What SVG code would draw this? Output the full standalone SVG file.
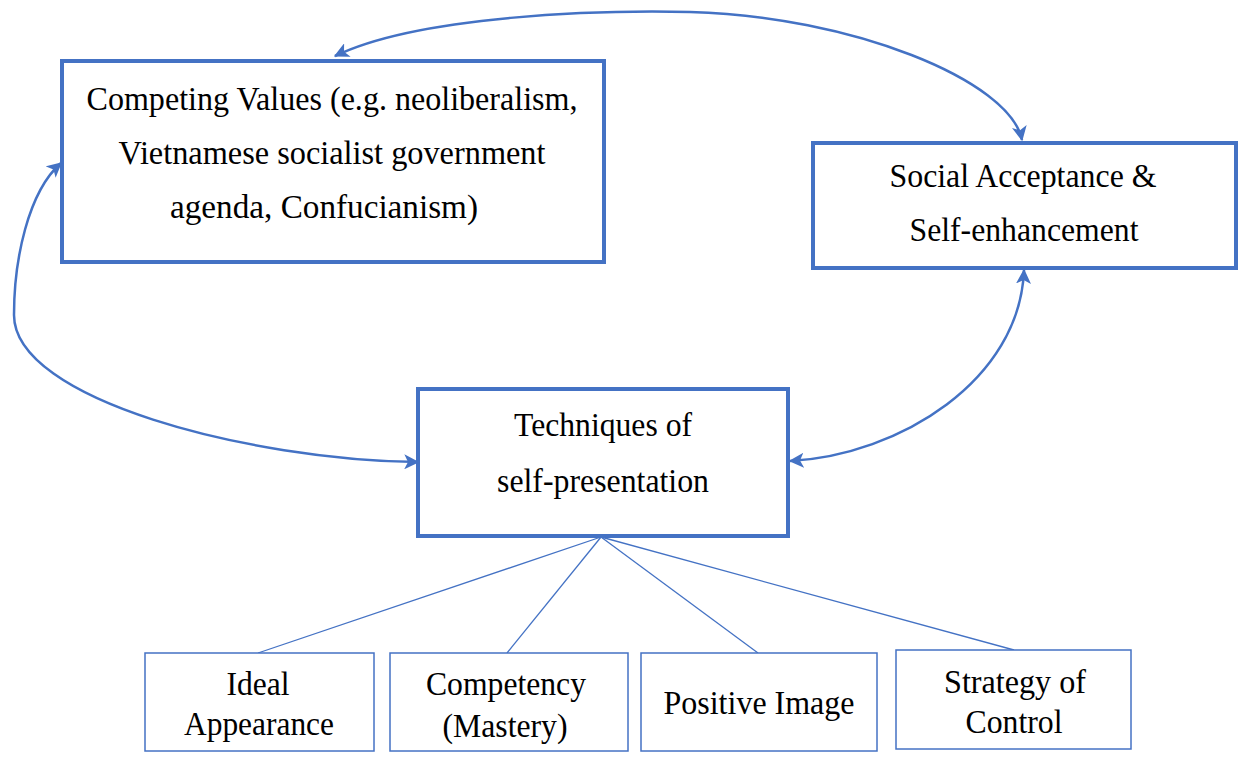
<svg xmlns="http://www.w3.org/2000/svg" width="1241" height="761" viewBox="0 0 1241 761">
  <defs>
    <style>
      .main { fill: #fff; stroke: #4472C4; stroke-width: 4; }
      .sub { fill: #fff; stroke: #4472C4; stroke-width: 1.5; }
      .lbl { font-size: 33px; fill: #000; text-anchor: middle; }
      .link { fill: none; stroke: #4472C4; stroke-width: 2.5; }
      .spoke { fill: none; stroke: #4472C4; stroke-width: 1.3; }
    </style>
    <marker id="arr" viewBox="0 0 12 12" refX="11" refY="6" markerWidth="6" markerHeight="6" orient="auto-start-reverse" markerUnits="strokeWidth">
      <path d="M0,0 L12,6 L0,12 L3,6 Z" fill="#4472C4"/>
    </marker>
  </defs>

  <rect width="1241" height="761" fill="#fff"/>

  <g id="connectors">
    <path class="link" d="M1022,140 C1010,80 850,16 690,12 C600,10 420,15 335,56" marker-start="url(#arr)" marker-end="url(#arr)"/>
    <path class="link" d="M418,462 C250,460 14,400 14,315 C14,260 28,192 61,163" marker-start="url(#arr)" marker-end="url(#arr)"/>
    <path class="link" d="M790,461 C900,455 1020,380 1024,270" marker-start="url(#arr)" marker-end="url(#arr)"/>
    <line class="spoke" x1="601" y1="537" x2="258" y2="653"/>
    <line class="spoke" x1="601" y1="537" x2="507" y2="653"/>
    <line class="spoke" x1="601" y1="537" x2="758" y2="653"/>
    <line class="spoke" x1="601" y1="537" x2="1014" y2="650"/>
  </g>

  <g font-family="'Liberation Serif', 'Times New Roman', Times, serif">
  <g id="competing-values">
    <rect class="main" x="62" y="61" width="542" height="201"/>
    <text class="lbl" x="332" y="110" textLength="491" lengthAdjust="spacingAndGlyphs">Competing Values (e.g. neoliberalism,</text>
    <text class="lbl" x="332" y="164" textLength="427" lengthAdjust="spacingAndGlyphs">Vietnamese socialist government</text>
    <text class="lbl" x="324" y="218" textLength="308" lengthAdjust="spacingAndGlyphs">agenda, Confucianism)</text>
  </g>

  <g id="social-acceptance">
    <rect class="main" x="813" y="143" width="423" height="125"/>
    <text class="lbl" x="1023" y="187" textLength="267" lengthAdjust="spacingAndGlyphs">Social Acceptance &amp;</text>
    <text class="lbl" x="1024" y="241" textLength="229" lengthAdjust="spacingAndGlyphs">Self-enhancement</text>
  </g>

  <g id="techniques">
    <rect class="main" x="418" y="389" width="370" height="147"/>
    <text class="lbl" x="603" y="436" textLength="178" lengthAdjust="spacingAndGlyphs">Techniques of</text>
    <text class="lbl" x="603" y="492" textLength="212" lengthAdjust="spacingAndGlyphs">self-presentation</text>
  </g>

  <g id="ideal-appearance">
    <rect class="sub" x="145" y="653" width="229" height="98"/>
    <text class="lbl" x="258" y="695" textLength="63" lengthAdjust="spacingAndGlyphs">Ideal</text>
    <text class="lbl" x="259" y="735" textLength="150" lengthAdjust="spacingAndGlyphs">Appearance</text>
  </g>

  <g id="competency">
    <rect class="sub" x="390" y="653" width="238" height="98"/>
    <text class="lbl" x="506" y="695" textLength="160" lengthAdjust="spacingAndGlyphs">Competency</text>
    <text class="lbl" x="505" y="737" textLength="125" lengthAdjust="spacingAndGlyphs">(Mastery)</text>
  </g>

  <g id="positive-image">
    <rect class="sub" x="641" y="653" width="236" height="98"/>
    <text class="lbl" x="759" y="714" textLength="191" lengthAdjust="spacingAndGlyphs">Positive Image</text>
  </g>

  <g id="strategy-of-control">
    <rect class="sub" x="896" y="650" width="235" height="99"/>
    <text class="lbl" x="1015" y="693" textLength="142" lengthAdjust="spacingAndGlyphs">Strategy of</text>
    <text class="lbl" x="1014" y="733" textLength="97" lengthAdjust="spacingAndGlyphs">Control</text>
  </g>
  </g>
</svg>
